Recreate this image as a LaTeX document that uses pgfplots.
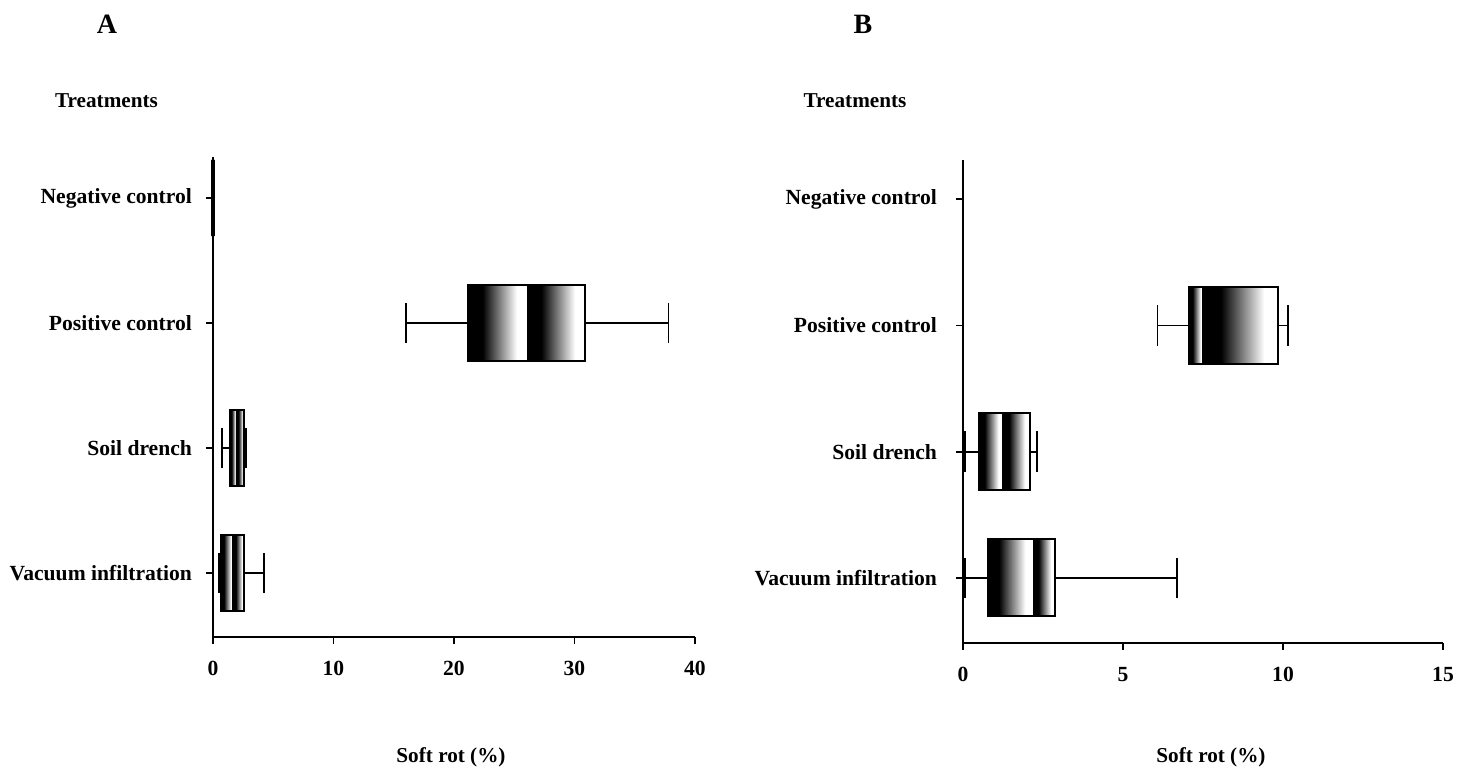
\documentclass[border=0pt]{standalone}
\usepackage{pgfplots}
\pgfplotsset{compat=1.18}
\usepgfplotslibrary{statistics}
\usepackage{fontspec}
\setmainfont{Liberation Serif}

% black at the left of each half of the box, fading to white
\pgfdeclarehorizontalshading{boxshade}{100bp}{color(0bp)=(black); color(25bp)=(black); color(37bp)=(black); color(50bp)=(black!55); color(66bp)=(white); color(100bp)=(white)}

\pgfplotsset{
  panel/.style={
    anchor=south west, scale only axis, clip=false,
    axis lines=left, axis line style={-, line width=1pt},
    ytick={1,2,3,4},
    yticklabels={Vacuum infiltration, Soil drench, Positive control, Negative control},
    tick align=outside, major tick length=3.5pt,
    tick style={line width=0.9pt, black},
    ticklabel style={font=\bfseries\fontsize{10.8}{12}\selectfont},
    /pgf/number format/assume math mode=true,
    xticklabel style={yshift=-5pt},
    boxplot/draw direction=x,
    boxplot/box extend=0.61,
    boxplot/whisker extend=0.32,
  },
  bx/.style={black, line width=0.9pt},
  shadedbox/.style={
    bx,
    boxplot/draw/box/.code={%
      \shade[shading=boxshade]
        (boxplot box cs:\pgfplotsboxplotvalue{lower quartile},0) rectangle
        (boxplot box cs:\pgfplotsboxplotvalue{median},1);
      \shade[shading=boxshade]
        (boxplot box cs:\pgfplotsboxplotvalue{median},0) rectangle
        (boxplot box cs:\pgfplotsboxplotvalue{upper quartile},1);
      \draw[black, line width=1pt]
        (boxplot box cs:\pgfplotsboxplotvalue{lower quartile},0) rectangle
        (boxplot box cs:\pgfplotsboxplotvalue{upper quartile},1);
    },
  },
}

\begin{document}
\begin{tikzpicture}
\path[use as bounding box] (0,0) rectangle (734pt,383.5pt);

% panel A
\begin{axis}[panel,
    at={(106.5pt,65pt)}, width=241pt, height=240pt,
    xmin=0, xmax=40, ymin=0.488, ymax=4.328,
    xtick={0,10,20,30,40},
    yticklabel style={xshift=-3.5pt},
  ]
  \addplot[black, line width=1.6pt, boxplot prepared={draw position=4, lower whisker=0, lower quartile=0,
      median=0, upper quartile=0, upper whisker=0}] coordinates {};
  \addplot[shadedbox, boxplot prepared={draw position=3, lower whisker=16.0, lower quartile=21.2,
      median=26.1, upper quartile=30.9, upper whisker=37.8}] coordinates {};
  \addplot[shadedbox, boxplot prepared={draw position=2, lower whisker=0.77, lower quartile=1.41,
      median=1.97, upper quartile=2.57, upper whisker=2.71}] coordinates {};
  \addplot[shadedbox, boxplot prepared={draw position=1, lower whisker=0.5, lower quartile=0.66,
      median=1.69, upper quartile=2.57, upper whisker=4.23}] coordinates {};
\end{axis}

% panel B
\begin{axis}[panel,
    at={(481.5pt,62pt)}, width=240pt, height=241.5pt,
    xmin=0, xmax=15, ymin=0.485, ymax=4.31,
    xtick={0,5,10,15},
    yticklabel style={xshift=-6pt},
  ]
  \addplot[shadedbox, boxplot prepared={draw position=3, lower whisker=6.08, lower quartile=7.07,
      median=7.51, upper quartile=9.83, upper whisker=10.15}] coordinates {};
  \addplot[shadedbox, boxplot prepared={draw position=2, lower whisker=0.06, lower quartile=0.5,
      median=1.24, upper quartile=2.09, upper whisker=2.3}] coordinates {};
  \addplot[shadedbox, boxplot prepared={draw position=1, lower whisker=0.06, lower quartile=0.79,
      median=2.2, upper quartile=2.87, upper whisker=6.68}] coordinates {};
\end{axis}

% panel letters, titles and axis labels
\node[anchor=base, font=\bfseries\fontsize{14}{16}\selectfont] at (53.5pt,366.8pt) {A};
\node[anchor=base, font=\bfseries\fontsize{14}{16}\selectfont] at (431.5pt,366.8pt) {B};
\node[anchor=base, font=\bfseries\fontsize{10.6}{12}\selectfont] at (53.25pt,329.8pt) {Treatments};
\node[anchor=base, font=\bfseries\fontsize{10.6}{12}\selectfont] at (427.5pt,329.8pt) {Treatments};
\node[anchor=base, font=\bfseries\fontsize{10.6}{12}\selectfont] at (225.5pt,2.3pt) {Soft rot (\%)};
\node[anchor=base, font=\bfseries\fontsize{10.6}{12}\selectfont] at (605.5pt,2.3pt) {Soft rot (\%)};
\end{tikzpicture}
\end{document}
